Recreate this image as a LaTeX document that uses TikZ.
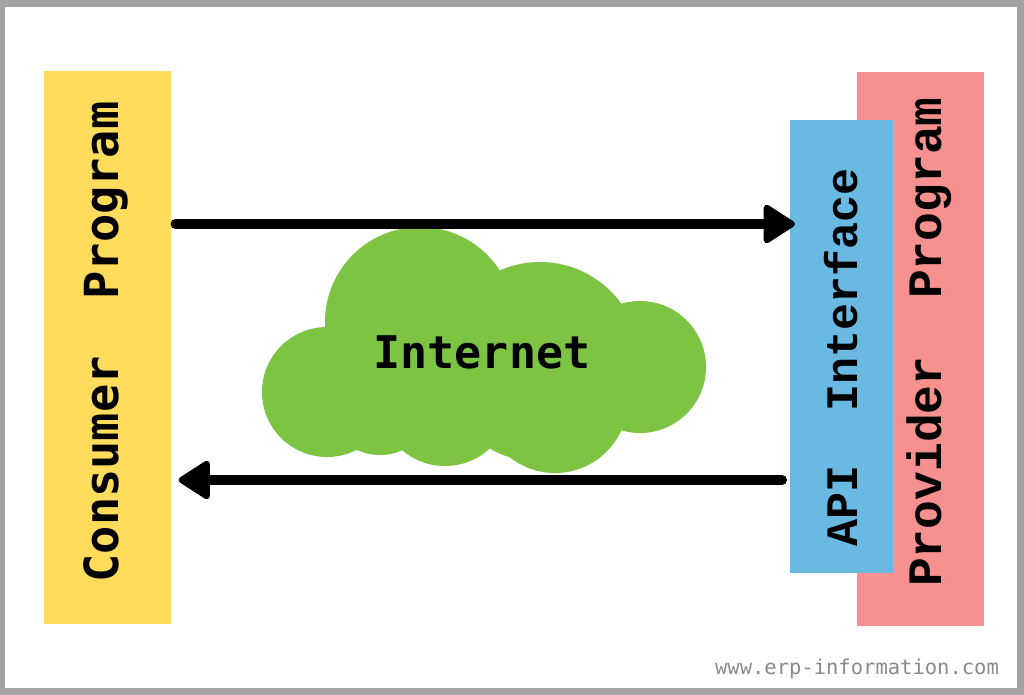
\documentclass[tikz,border=0pt]{standalone}
\usepackage{fontspec}
\usetikzlibrary{arrows.meta}
\newfontfamily\dvmono{DejaVu Sans Mono}
\newfontfamily\lbmono{Liberation Mono}
\definecolor{frameg}{HTML}{A3A3A3}
\definecolor{consy}{HTML}{FFDC5C}
\definecolor{provp}{HTML}{F79190}
\definecolor{apib}{HTML}{69B9E2}
\definecolor{cloudg}{HTML}{7DC443}
\definecolor{wmg}{HTML}{8A8A8A}
\tikzset{
  box/.style={inner sep=0pt, outer sep=0pt, draw=none},
  arr/.style={line width=10pt, line cap=round, -{Triangle[length=34pt,width=42pt,line width=6pt,round]}},
  lbl/.style={rotate=90, inner sep=0pt, text=black},
}
\begin{document}
\begin{tikzpicture}[x=1pt,y=-1pt]
\useasboundingbox (0,0) rectangle (1024,695);
\fill[frameg] (0,0) rectangle (1024,695);
\fill[white] (5,7) rectangle (1017,688);
% boxes
\node[box, fill=consy, minimum width=127pt, minimum height=553pt] (cons) at (107,347.5) {};
\node[box, fill=provp, minimum width=127pt, minimum height=554pt] (prov) at (920.5,349) {};
\node[box, fill=apib, minimum width=103pt, minimum height=453pt] (api) at (841.5,346.5) {};
% labels
\node[lbl, font=\dvmono\bfseries\fontsize{47}{47}\selectfont] (consl) at (106,342) {Consumer~~Program};
\node[lbl, font=\lbmono\bfseries\fontsize{45}{45}\selectfont] (apil) at (841,357) {API~~Interface};
\node[lbl, font=\lbmono\bfseries\fontsize{48}{48}\selectfont] (provl) at (929,342) {Provider~~Program};
% cloud
\begin{scope}
\fill[cloudg] (327,392) circle (65);
\fill[cloudg] (420,322) circle (95);
\fill[cloudg] (540,362) circle (100);
\fill[cloudg] (640,367) circle (66);
\fill[cloudg] (445,400) circle (66);
\fill[cloudg] (555,400) circle (73);
\fill[cloudg] (380,400) circle (55);
\end{scope}
\node[inner sep=0pt, font=\dvmono\bfseries\fontsize{45}{45}\selectfont] (net) at (482,352) {Internet};
% arrows
\coordinate (yt) at (0,224);
\coordinate (yb) at (0,480);
\draw[arr] ([xshift=5pt]cons.east |- yt) -- ([xshift=5pt]api.west |- yt);
\draw[arr] ([xshift=-8pt]api.west |- yb) -- ([xshift=8pt]cons.east |- yb);
% watermark
\node[inner sep=0pt, text=wmg, font=\dvmono\fontsize{20.5}{20.5}\selectfont] (wm) at (857,669) {www.erp-information.com};
\end{tikzpicture}
\end{document}
